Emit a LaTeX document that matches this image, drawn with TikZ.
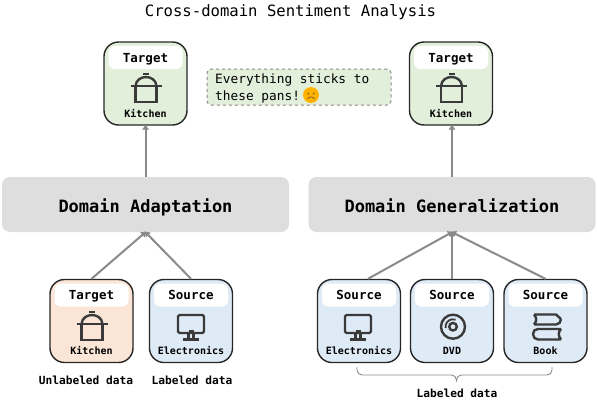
\documentclass[tikz,border=0pt]{standalone}
\usepackage{fontspec}
\setmainfont{DejaVu Sans Mono}
\usetikzlibrary{arrows.meta,calc}
\definecolor{gfill}{HTML}{E2EFDA}
\definecolor{ofill}{HTML}{FBE5D6}
\definecolor{bfill}{HTML}{DEEBF7}
\definecolor{bandg}{HTML}{DEDEDE}
\definecolor{conn}{HTML}{8A8A8A}
\definecolor{ink}{HTML}{262626}
\definecolor{iconc}{HTML}{3A3A3A}
\tikzset{
  x=1pt,y=-1pt,
  card/.style={draw=ink,line width=1.4pt,rounded corners=14.5pt,minimum width=83pt,minimum height=83pt,inner sep=0pt},
  head/.style={fill=white,rounded corners=6pt,minimum width=74pt,minimum height=23pt,inner sep=0pt},
  headtext/.style={anchor=base,inner sep=0pt,font=\fontsize{12.5}{14}\selectfont\bfseries,text=black},
  sub/.style={anchor=base,inner sep=0pt,font=\fontsize{10}{12}\selectfont\bfseries,text=black},
  band/.style={fill=bandg,rounded corners=8pt,minimum width=287pt,minimum height=55pt,inner sep=0pt},
  bandtext/.style={anchor=base,inner sep=0pt,font=\fontsize{17}{20}\selectfont\bfseries,text=black},
  captext/.style={anchor=base,inner sep=0pt,font=\fontsize{11.2}{13}\selectfont\bfseries,text=black},
  quotetext/.style={anchor=base west,inner sep=0pt,font=\fontsize{12.8}{16}\selectfont,text=black},
  link/.style={draw=conn,line width=2pt,-{Triangle[length=5pt,width=6.5pt]},shorten >=-1pt},
  ic/.style={draw=iconc,line width=2.4pt,line cap=butt,line join=miter}
}
\newcommand{\cardbox}[6]{% name, cx, cy, fill, head, sub
  \node[card,fill=#4] (#1) at (#2,#3) {};
  \node[head] (#1h) at (#2,#3-26) {};
  \node[headtext] (#1t) at (#2,#3-21.5) {#5};
  \node[sub] (#1s) at (#2,#3+33.5) {#6};
}
\newcommand{\potic}[2]{\begin{scope}[shift={(#1,#2)}]
  \draw[ic] (-3,-16) -- (3,-16);
  \draw[ic] (-10.5,-4) .. controls (-10,-10) and (-5,-13) .. (0,-13) .. controls (5,-13) and (10,-10) .. (10.5,-4);
  \draw[ic] (-15.5,-4) -- (15.5,-4);
  \draw[ic] (-10.5,-4) -- (-10.5,12) -- (10.5,12) -- (10.5,-4);
\end{scope}}
\newcommand{\monic}[2]{\begin{scope}[shift={(#1,#2)}]
  \draw[ic,rounded corners=1.5pt] (-13,-13) rectangle (13,5);
  \draw[draw=iconc,line width=2pt] (-2.5,3) -- (2.5,3);
  \draw[ic] (-2.5,5) -- (-2.5,11) (2.5,5) -- (2.5,11);
  \draw[ic] (-8,11.5) -- (8,11.5);
\end{scope}}
\newcommand{\discic}[2]{\begin{scope}[shift={(#1,#2)}]
  \draw[ic] (0,0) circle (12);
  \draw[ic] (0,0) circle (3.8);
  \draw[draw=iconc,line width=1.8pt] (170:7.5) arc[start angle=170,end angle=290,radius=7.5];
\end{scope}}
\newcommand{\bookic}[2]{\begin{scope}[shift={(#1,#2)}]
  \draw[ic,line join=round] (-13,-12.5) -- (9,-12.5) -- (14,-8) (14,-8) .. controls (14,-5) and (12,-2.5) .. (9,-2.5) -- (-13,-2.5) (-13,-12.5) .. controls (-10,-9) and (-10,-6) .. (-13,-2.5);
  \draw[ic,line join=round] (14,12.5) -- (-9,12.5) .. controls (-12,12.5) and (-14,10) .. (-14,7) .. controls (-14,4) and (-12,2) .. (-9,2) -- (14,2) (14,2) .. controls (11,5) and (11,9) .. (14,12.5);
\end{scope}}
\begin{document}
\begin{tikzpicture}
\useasboundingbox (0,0) rectangle (597,402);
\node[anchor=base,inner sep=0pt,font=\fontsize{15.6}{18}\selectfont,text=black] (title) at (290.5,16) {Cross-domain Sentiment Analysis};

\node[band] (da) at (145.5,204.5) {};
\node[band] (dg) at (452,204.5) {};
\node[bandtext] (dat) at (145.5,212) {Domain Adaptation};
\node[bandtext] (dgt) at (452,212) {Domain Generalization};

\cardbox{ta}{145.5}{83.5}{gfill}{Target}{Kitchen}
\cardbox{tb}{451}{83.5}{gfill}{Target}{Kitchen}
\cardbox{ba}{91.5}{321}{ofill}{Target}{Kitchen}
\cardbox{bb}{191}{321}{bfill}{Source}{Electronics}
\cardbox{bc}{359}{321}{bfill}{Source}{Electronics}
\cardbox{bd}{452}{321}{bfill}{Source}{DVD}
\cardbox{be}{545.5}{321}{bfill}{Source}{Book}

\potic{146}{90}
\potic{451.5}{90}
\potic{92}{328}
\monic{191}{328}
\monic{358}{328}
\discic{453}{326.7}
\bookic{547}{327}

\node[draw=conn,fill=gfill,dashed,line width=1pt,rounded corners=4pt,minimum width=184pt,minimum height=36pt,inner sep=0pt] (quote) at (299,87) {};
\node[quotetext] (q1) at (215,83) {Everything sticks to};
\node[quotetext] (q2) at (215,100) {these pans!};
\begin{scope}[shift={(311,95)}]
  \fill[orange!60!yellow] (0,0) circle (8);
  \draw[draw=brown!70!black,line width=0.8pt] (-3.5,3.8) .. controls (-1.5,1.3) and (1.5,1.3) .. (3.5,3.8);
  \fill[brown!60!black] (-2.8,-1.5) circle (0.9) (2.8,-1.5) circle (0.9);
\end{scope}

\draw[link] (da.north) -- (ta.south);
\draw[link] (dg.north) -- (dg.north |- tb.south);
\coordinate (pa) at (da.south);
\coordinate (pb) at (dg.south);
\draw[link] (ba.north) -- (pa);
\draw[link] (bb.north) -- (pa);
\coordinate (c1) at ($(bc.north)+(9,0)$);
\coordinate (c3) at (be.north);
\draw[link] (c1) -- (pb);
\draw[link] (bd.north) -- (pb);
\draw[link] (c3) -- (pb);

\node[captext] (ua) at (86,384) {Unlabeled data};
\node[captext] (ub) at (192,384) {Labeled data};
\coordinate (bl) at (357,367);
\coordinate (br) at (552,367);
\coordinate (bm) at (456.5,381.5);
\draw[draw=conn,line width=0.9pt,rounded corners=5pt] (bl) -- (357,375) -- (bm |- 0,375) -- (bm);
\draw[draw=conn,line width=0.9pt,rounded corners=5pt] (br) -- (552,375) -- (bm |- 0,375) -- (bm);
\node[captext] (uc) at (457,397) {Labeled data};
\end{tikzpicture}
\end{document}
